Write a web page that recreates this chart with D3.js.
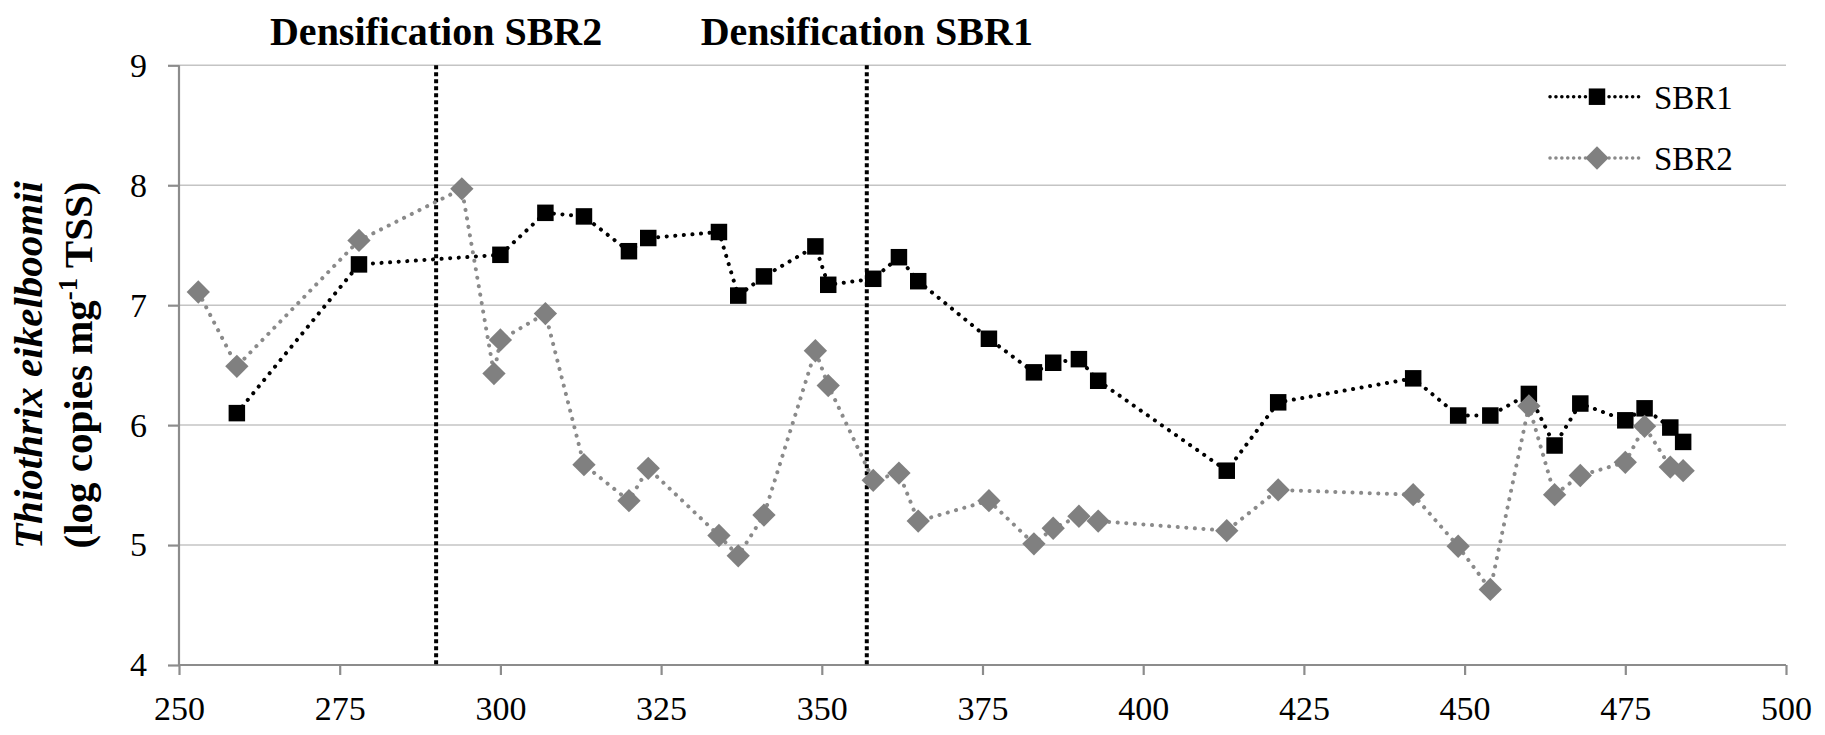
<!DOCTYPE html>
<html>
<head>
<meta charset="utf-8">
<script src="https://cdn.jsdelivr.net/npm/d3@7"></script>
<style>
  body { margin: 0; background: #fff; }
  svg { display: block; font-family: "Liberation Serif", "Times New Roman", serif; }
</style>
</head>
<body>
<script>
const w = 1825;
const h = 735;

// day of operation
const sbr1Days = [259, 278, 300, 307, 313, 320, 323, 334, 337, 341, 349, 351, 358, 362, 365, 376, 383, 386, 390, 393, 413, 421, 442, 449, 454, 460, 464, 468, 475, 478, 482, 484];
const sbr1Vals = [6.10, 7.34, 7.42, 7.77, 7.74, 7.45, 7.56, 7.61, 7.08, 7.24, 7.49, 7.17, 7.22, 7.40, 7.20, 6.72, 6.44, 6.52, 6.55, 6.37, 5.62, 6.19, 6.39, 6.08, 6.08, 6.26, 5.83, 6.18, 6.04, 6.14, 5.98, 5.86];

const sbr2Days = [253, 259, 278, 294, 299, 300, 307, 313, 320, 323, 334, 337, 341, 349, 351, 358, 362, 365, 376, 383, 386, 390, 393, 413, 421, 442, 449, 454, 460, 464, 468, 475, 478, 482, 484];
const sbr2Vals = [7.11, 6.49, 7.54, 7.97, 6.43, 6.71, 6.93, 5.67, 5.37, 5.64, 5.08, 4.91, 5.25, 6.62, 6.33, 5.54, 5.60, 5.20, 5.37, 5.01, 5.14, 5.24, 5.20, 5.12, 5.46, 5.42, 4.99, 4.63, 6.16, 5.42, 5.58, 5.69, 5.99, 5.65, 5.62];

const xTicks = [250, 275, 300, 325, 350, 375, 400, 425, 450, 475, 500];
const yTicks = [4, 5, 6, 7, 8, 9];

const events = [
  { day: 290, label: "Densification SBR2" },
  { day: 357, label: "Densification SBR1" }
];

const seriesNames = ["SBR1", "SBR2"];

const sbr1 = sbr1Days.map((d, i) => ({ day: d, val: sbr1Vals[i] }));
const sbr2 = sbr2Days.map((d, i) => ({ day: d, val: sbr2Vals[i] }));

const plotL = 179, plotR = 1786, plotT = 65.3, plotB = 665;

const xScale = d3.scaleLinear().domain([250, 500]).range([plotL, plotR]);
const yScale = d3.scaleLinear().domain([4, 9]).range([plotB, plotT]);

const svg = d3.select("body")
  .append("svg")
  .attr("width", w)
  .attr("height", h);

svg.append("rect").attr("width", w).attr("height", h).attr("fill", "#fff");

// GRIDLINES
svg.append("g")
  .selectAll("line")
  .data(yTicks.slice(1))
  .join("line")
  .attr("x1", plotL)
  .attr("x2", plotR)
  .attr("y1", d => yScale(d))
  .attr("y2", d => yScale(d))
  .attr("stroke", "#c4c4c4")
  .attr("stroke-width", 1.5);

// AXES
const yAxis = svg.append("g")
  .attr("transform", `translate(${plotL}, 0)`)
  .call(d3.axisLeft(yScale).tickValues(yTicks).tickSize(11).tickPadding(21).tickFormat(d3.format("d")));

const xAxis = svg.append("g")
  .attr("transform", `translate(0, ${plotB})`)
  .call(d3.axisBottom(xScale).tickValues(xTicks).tickSize(10).tickPadding(21).tickFormat(d3.format("d")));

[xAxis, yAxis].forEach(g => {
  g.select(".domain").attr("stroke", "#8c8c8c").attr("stroke-width", 2.2);
  g.selectAll(".tick line").attr("stroke", "#8c8c8c").attr("stroke-width", 2.2);
  g.selectAll(".tick text")
    .attr("fill", "#000")
    .style("font-family", "'Liberation Serif', 'Times New Roman', serif")
    .style("font-size", "34px");
});
yAxis.select(".domain").attr("d", `M0,${plotB}V${plotT}`);
xAxis.select(".domain").attr("d", `M${plotL},0H${plotR}`);

// DENSIFICATION MARKERS
svg.append("g")
  .selectAll("line")
  .data(events)
  .join("line")
  .attr("x1", d => xScale(d.day))
  .attr("x2", d => xScale(d.day))
  .attr("y1", plotT)
  .attr("y2", plotB)
  .attr("stroke", "#000")
  .attr("stroke-width", 4)
  .attr("stroke-dasharray", "4,3");

svg.append("g")
  .selectAll("text")
  .data(events)
  .join("text")
  .attr("x", d => xScale(d.day))
  .attr("y", 45)
  .attr("text-anchor", "middle")
  .attr("font-weight", "bold")
  .attr("font-size", 40)
  .text(d => d.label);

// SERIES
const line = d3.line()
  .x(d => xScale(d.day))
  .y(d => yScale(d.val));

const square = d3.symbol().type(d3.symbolSquare).size(272);

// SBR1
svg.append("path")
  .datum(sbr1)
  .attr("d", line)
  .attr("fill", "none")
  .attr("stroke", "#000")
  .attr("stroke-width", 4)
  .attr("stroke-linecap", "round")
  .attr("stroke-dasharray", "0.1,8.5");

svg.append("g")
  .selectAll("path")
  .data(sbr1)
  .join("path")
  .attr("d", square)
  .attr("transform", d => `translate(${xScale(d.day)},${yScale(d.val)})`)
  .attr("fill", "#000");

// SBR2
svg.append("path")
  .datum(sbr2)
  .attr("d", line)
  .attr("fill", "none")
  .attr("stroke", "#8a8a8a")
  .attr("stroke-width", 4)
  .attr("stroke-linecap", "round")
  .attr("stroke-dasharray", "0.1,8.5");

svg.append("g")
  .selectAll("path")
  .data(sbr2)
  .join("path")
  .attr("d", square)
  .attr("transform", d => `translate(${xScale(d.day)},${yScale(d.val)}) rotate(45)`)
  .attr("fill", "#808080");

// LEGEND
const legend = svg.append("g");
const legendY = [96.7, 158];
const legendColors = ["#000", "#8a8a8a"];
const legendFill = ["#000", "#808080"];

seriesNames.forEach((name, i) => {
  const g = legend.append("g").attr("transform", `translate(0, ${legendY[i]})`);
  g.append("line")
    .attr("x1", 1550).attr("x2", 1640)
    .attr("stroke", legendColors[i])
    .attr("stroke-width", 3.5)
    .attr("stroke-linecap", "round")
    .attr("stroke-dasharray", "0.1,5.8");
  g.append("path")
    .attr("d", square)
    .attr("transform", `translate(1597,0)${i === 1 ? " rotate(45)" : ""}`)
    .attr("fill", legendFill[i]);
  g.append("text")
    .attr("x", 1654)
    .attr("y", 12)
    .attr("font-size", 33)
    .text(name);
});

// Y TITLE
svg.append("text")
  .attr("transform", `translate(42, 365) rotate(-90)`)
  .attr("text-anchor", "middle")
  .attr("font-weight", "bold")
  .attr("font-style", "italic")
  .attr("font-size", 41)
  .text("Thiothrix eikelboomii");

const yTitle2 = svg.append("text")
  .attr("transform", `translate(92, 365) rotate(-90)`)
  .attr("text-anchor", "middle")
  .attr("font-weight", "bold")
  .attr("font-size", 41);
yTitle2.append("tspan").text("(log copies mg");
yTitle2.append("tspan").attr("font-size", 27).attr("dy", -15).text("-1");
yTitle2.append("tspan").attr("dy", 15).text(" TSS)");
</script>
</body>
</html>
